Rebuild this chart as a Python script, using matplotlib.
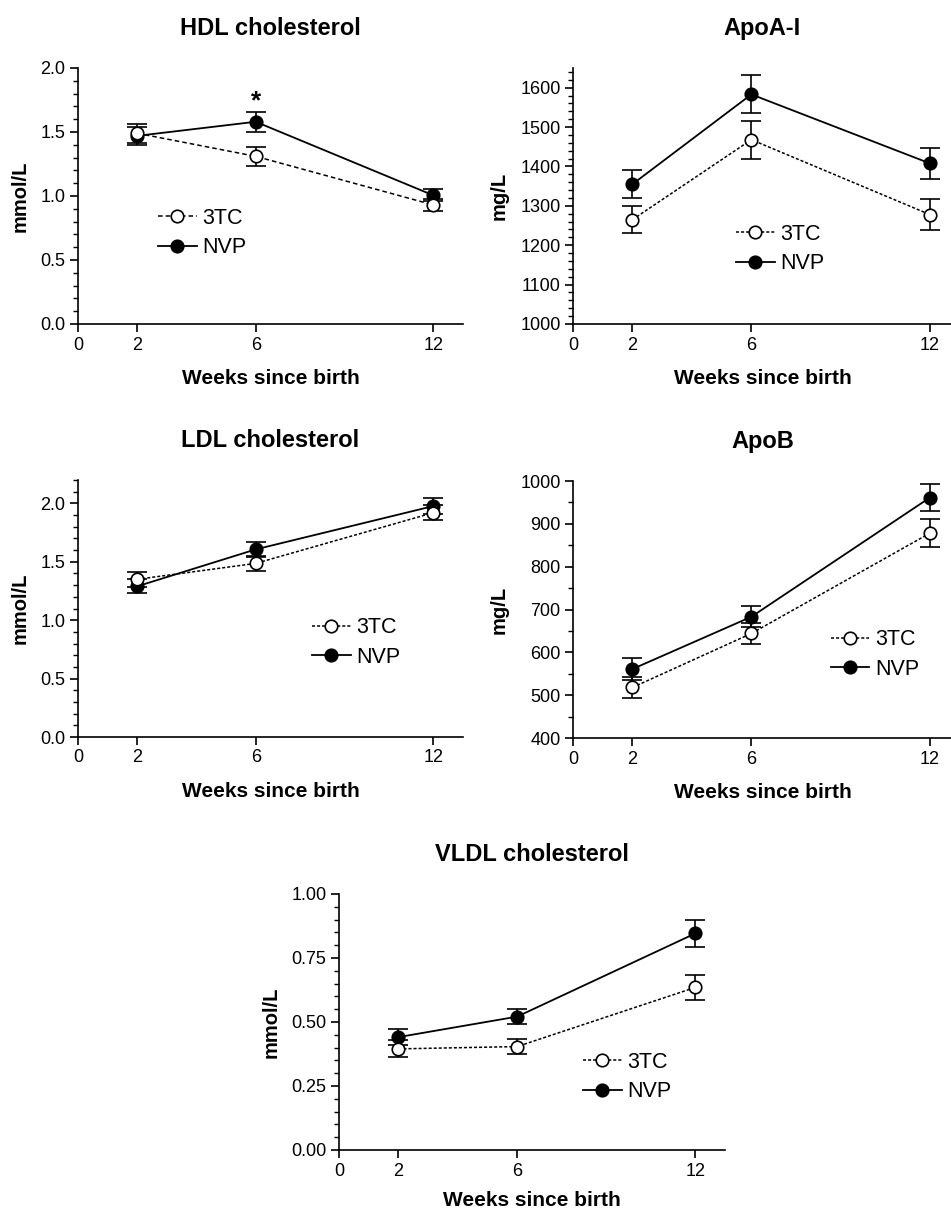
import matplotlib.pyplot as plt
import numpy as np
from matplotlib.ticker import MultipleLocator

plt.rcParams['font.family'] = ['Liberation Sans', 'DejaVu Sans']

# Weeks since birth
weeks = [2, 6, 12]
week_ticks = [0, 2, 6, 12]

# HDL cholesterol (mmol/L)
hdl_3tc = [1.49, 1.31, 0.93]
hdl_3tc_err = [0.075, 0.075, 0.05]
hdl_nvp = [1.47, 1.58, 1.005]
hdl_nvp_err = [0.07, 0.078, 0.047]

# ApoA-I (mg/L)
apoa_3tc = [1265, 1468, 1278]
apoa_3tc_err = [35, 48, 40]
apoa_nvp = [1355, 1583, 1408]
apoa_nvp_err = [35, 48, 40]

# LDL cholesterol (mmol/L)
ldl_3tc = [1.35, 1.486, 1.92]
ldl_3tc_err = [0.065, 0.065, 0.065]
ldl_nvp = [1.29, 1.606, 1.977]
ldl_nvp_err = [0.06, 0.065, 0.07]

# ApoB (mg/L)
apob_3tc = [518, 644, 878]
apob_3tc_err = [24, 24, 33]
apob_nvp = [561, 683, 961]
apob_nvp_err = [26, 25, 31]

# VLDL cholesterol (mmol/L)
vldl_3tc = [0.395, 0.404, 0.635]
vldl_3tc_err = [0.033, 0.029, 0.05]
vldl_nvp = [0.441, 0.521, 0.846]
vldl_nvp_err = [0.031, 0.028, 0.052]

W, H = 951, 1211
fig = plt.figure(figsize=(W / 100, H / 100), dpi=100)


def make_axes(left, right, top, bottom):
    return fig.add_axes([left / W, 1 - bottom / H, (right - left) / W, (bottom - top) / H])


def panel(ax, title, ylabel, v3, e3, vn, en, ylim, major, minor, fmt, leg_xy,
          xmax=13, ls3=(0, (2, 1.3)), xpad=11):
    # error bars first, then markers on top
    ax.errorbar(weeks, vn, yerr=en, fmt='none', ecolor='black', elinewidth=1.2,
                capsize=7, capthick=1.2, zorder=2)
    ax.errorbar(weeks, v3, yerr=e3, fmt='none', ecolor='black', elinewidth=1.2,
                capsize=7, capthick=1.2, zorder=2)
    ax.plot(weeks, vn, color='black', lw=1.3, marker='o', ms=9, mfc='black',
            mec='black', mew=1.2, label='NVP', zorder=3)
    ax.plot(weeks, v3, color='black', lw=1.1, ls=ls3, marker='o', ms=9,
            mfc='white', mec='black', mew=1.2, label='3TC', zorder=4)

    ax.set_xlim(0, xmax)
    ax.set_ylim(*ylim)
    ax.set_xticks(week_ticks)
    ax.yaxis.set_major_locator(MultipleLocator(major))
    ax.yaxis.set_minor_locator(MultipleLocator(minor))
    ax.yaxis.set_major_formatter(fmt)
    ax.spines[['top', 'right']].set_visible(False)
    ax.spines[['left', 'bottom']].set_linewidth(1.2)
    ax.tick_params(axis='both', which='major', length=6, width=1.2, labelsize=13,
                   colors='black', pad=3)
    ax.tick_params(axis='y', which='minor', length=3.5, width=1.0)
    ax.set_title(title, fontsize=17, fontweight='bold', pad=24)
    ax.set_xlabel('Weeks since birth', fontsize=15, fontweight='bold', labelpad=xpad)
    ax.set_ylabel(ylabel, fontsize=14.5, fontweight='bold', labelpad=8)

    h, l = ax.get_legend_handles_labels()
    ax.legend(h[::-1], l[::-1], loc='center left', bbox_to_anchor=leg_xy, frameon=False,
              fontsize=15.5, handlelength=1.8, handletextpad=0.25, labelspacing=0.4,
              borderpad=0, borderaxespad=0, numpoints=1)


ax1 = make_axes(78, 463, 68, 324)
panel(ax1, 'HDL cholesterol', 'mmol/L', hdl_3tc, hdl_3tc_err, hdl_nvp, hdl_nvp_err,
      (0, 2.0), 0.5, 0.1, '{x:.1f}', (0.208, 0.355), ls3=(0, (3, 2)))
ax1.text(6, 1.74, '*', ha='center', va='center', fontsize=19, fontweight='bold')

ax2 = make_axes(573, 952, 68, 324)
panel(ax2, 'ApoA-I', 'mg/L', apoa_3tc, apoa_3tc_err, apoa_nvp, apoa_nvp_err,
      (1000, 1650), 100, 20, '{x:.0f}', (0.43, 0.293), xmax=12.75)

ax3 = make_axes(78, 463, 480, 737)
panel(ax3, 'LDL cholesterol', 'mmol/L', ldl_3tc, ldl_3tc_err, ldl_nvp, ldl_nvp_err,
      (0, 2.2), 0.5, 0.1, '{x:.1f}', (0.608, 0.368))

ax4 = make_axes(573, 952, 481, 738)
panel(ax4, 'ApoB', 'mg/L', apob_3tc, apob_3tc_err, apob_nvp, apob_nvp_err,
      (400, 1000), 100, 50, '{x:.0f}', (0.68, 0.325), xmax=12.75)

ax5 = make_axes(339, 725, 894, 1150)
panel(ax5, 'VLDL cholesterol', 'mmol/L', vldl_3tc, vldl_3tc_err, vldl_nvp, vldl_nvp_err,
      (0, 1.0), 0.25, 0.05, '{x:.2f}', (0.632, 0.285), xpad=8)

fig.savefig('out.png', dpi=100)
